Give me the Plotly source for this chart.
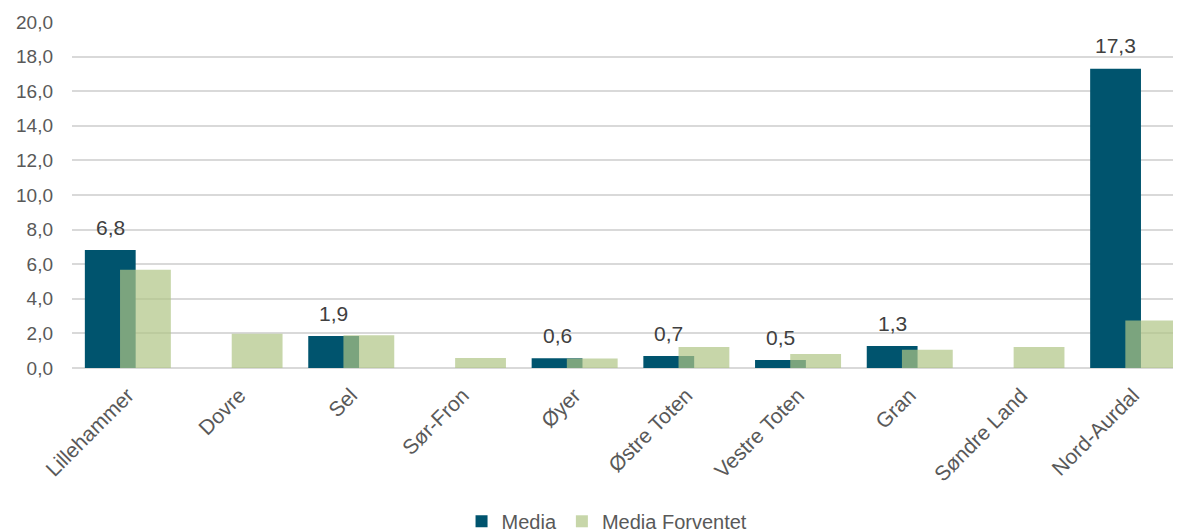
import plotly.graph_objects as go

categories = ["Lillehammer", "Dovre", "Sel", "Sør-Fron", "Øyer", "Østre Toten",
              "Vestre Toten", "Gran", "Søndre Land", "Nord-Aurdal"]
media = [6.82, None, 1.85, None, 0.56, 0.69, 0.46, 1.27, None, 17.3]
media_forventet = [5.68, 1.98, 1.9, 0.58, 0.55, 1.21, 0.81, 1.05, 1.21, 2.74]
y_ticks = [0, 2, 4, 6, 8, 10, 12, 14, 16, 18, 20]

FONT = "Liberation Sans, Arial, sans-serif"
x = list(range(len(categories)))
bw = 0.455
off_media = -0.385
off_forv = -0.07

fig = go.Figure()
fig.add_trace(go.Bar(
    x=x, y=media, name="Media", width=bw, offset=off_media,
    marker=dict(color="#00546E", line=dict(width=0)),
))
fig.add_trace(go.Bar(
    x=x, y=media_forventet, name="Media Forventet", width=bw, offset=off_forv,
    marker=dict(color="rgb(176,198,134)", line=dict(width=0)), opacity=0.7,
))

for i, v in enumerate(media):
    if v is None:
        continue
    fig.add_annotation(
        x=i + off_media + bw / 2, y=v, text=f"{v:.1f}".replace(".", ","),
        showarrow=False, yanchor="middle", yshift=23,
        font=dict(family=FONT, size=21, color="#404040"),
    )

fig.update_layout(
    width=1181, height=532,
    margin=dict(l=64, r=0, t=14, b=172, autoexpand=False),
    paper_bgcolor="white", plot_bgcolor="white",
    barmode="overlay",
    showlegend=True,
    legend=dict(orientation="h", x=0.479, xanchor="center", y=-0.443, yanchor="middle",
                font=dict(family=FONT, size=20, color="#595959"),
                itemsizing="constant", traceorder="normal", itemwidth=30),
    font=dict(family=FONT, color="#595959"),
)
fig.update_xaxes(
    range=[-0.5, 9.5], tickmode="array", tickvals=x, ticktext=categories,
    tickangle=-45, tickfont=dict(family=FONT, size=21, color="#595959"),
    showgrid=False, zeroline=False, showline=False, ticks="", ticklabelstandoff=10,
)
fig.update_yaxes(
    range=[0, 20], tickmode="array", tickvals=y_ticks,
    ticktext=[f"{t:.1f}".replace(".", ",") for t in y_ticks],
    tickfont=dict(family=FONT, size=19, color="#595959"),
    showgrid=True, gridcolor="#D9D9D9", gridwidth=2,
    zeroline=True, zerolinecolor="#D9D9D9", zerolinewidth=2,
    showline=False, ticks="", ticklabelstandoff=18,
)

fig.write_html("out.html")
